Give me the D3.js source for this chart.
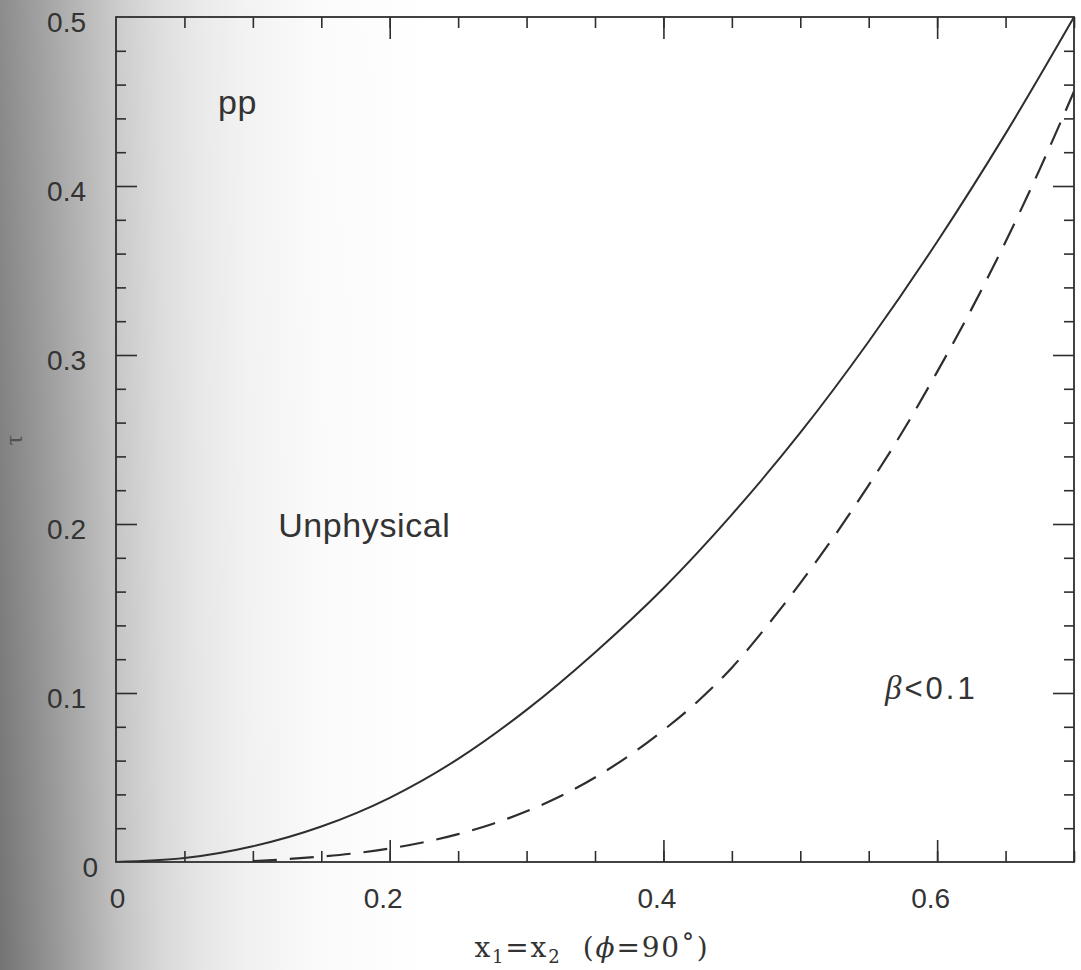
<!DOCTYPE html>
<html>
<head>
<meta charset="utf-8">
<script src="https://cdn.jsdelivr.net/npm/d3@7"></script>
<style>
  html, body { margin: 0; padding: 0; background: #fff; }
  svg { display: block; }
</style>
</head>
<body>
<svg id="chart" width="1081" height="970"></svg>
<script>
// Kinematic boundary tau versus x1 = x2 (phi = 90 deg), pp collisions
const boundaryX   = [0, 0.05, 0.10, 0.15, 0.20, 0.25, 0.30, 0.35, 0.40, 0.45, 0.50, 0.55, 0.60, 0.65, 0.70];
const boundaryTau = [0, 0.0023, 0.0093, 0.021, 0.038, 0.061, 0.090, 0.124, 0.162, 0.2056, 0.254, 0.308, 0.367, 0.431, 0.500];

// beta < 0.1 contour (dashed)
const betaX   = [0.100, 0.125, 0.150, 0.175, 0.200, 0.225, 0.250, 0.275, 0.300, 0.325, 0.350, 0.375, 0.400,
                 0.425, 0.450, 0.475, 0.500, 0.525, 0.550, 0.575, 0.600, 0.625, 0.650, 0.675, 0.700];
const betaTau = [0.0005, 0.0017, 0.0032, 0.0052, 0.0080, 0.0117, 0.0165, 0.0225, 0.030, 0.039, 0.050, 0.063, 0.078,
                 0.095, 0.115, 0.139, 0.165, 0.193, 0.223, 0.255, 0.290, 0.327, 0.367, 0.410, 0.456];

// Axis ticks
const xMinorTicks = [0.05, 0.10, 0.15, 0.20, 0.25, 0.30, 0.35, 0.40, 0.45, 0.50, 0.55, 0.60, 0.65, 0.70];
const xMajorTicks = [0.2, 0.4, 0.6];
const xTickLabels = [0, 0.2, 0.4, 0.6];
const yMinorTicks = [0.02, 0.04, 0.06, 0.08, 0.12, 0.14, 0.16, 0.18, 0.22, 0.24, 0.26, 0.28,
                     0.32, 0.34, 0.36, 0.38, 0.42, 0.44, 0.46, 0.48];
const yMajorTicks = [0.1, 0.2, 0.3, 0.4];
const yTickLabels = [0, 0.1, 0.2, 0.3, 0.4, 0.5];

// Text annotations, positioned in data coordinates
const annotations = [
  { text: "pp",         x: 0.0745, y: 0.4426 },
  { text: "Unphysical", x: 0.1185, y: 0.1923 }
];
const betaNote = { x: 0.5619, y: 0.0964 };

const svg = d3.select("#chart");
const W = 1081, H = 970;
const plot = { left: 116, right: 1074, top: 17, bottom: 862 };

const x = d3.scaleLinear().domain([0, 0.7]).range([plot.left, plot.right]);
const y = d3.scaleLinear().domain([0, 0.5]).range([plot.bottom, plot.top]);

// Page shading, darker toward the left edge
const defs = svg.append("defs");
const gh = defs.append("linearGradient").attr("id", "shadeH")
  .attr("gradientUnits", "userSpaceOnUse").attr("x1", 0).attr("x2", 430).attr("y1", 0).attr("y2", 0);
[[0, "#737373"], [0.09, "#8c8c8c"], [0.19, "#a9a9a9"], [0.28, "#c3c3c3"], [0.37, "#d7d7d7"],
 [0.47, "#e6e6e6"], [0.58, "#f1f1f1"], [0.74, "#fafafa"], [1, "#ffffff"]]
  .forEach(([o, c]) => gh.append("stop").attr("offset", o).attr("stop-color", c));
const gv = defs.append("linearGradient").attr("id", "shadeV")
  .attr("x1", 0).attr("x2", 0).attr("y1", 0).attr("y2", 1);
gv.append("stop").attr("offset", 0).attr("stop-color", "#fff").attr("stop-opacity", 0.18);
gv.append("stop").attr("offset", 1).attr("stop-color", "#fff").attr("stop-opacity", 0);
defs.append("clipPath").attr("id", "plotClip").append("rect")
  .attr("x", plot.left).attr("y", plot.top)
  .attr("width", plot.right - plot.left).attr("height", plot.bottom - plot.top);

svg.append("rect").attr("width", W).attr("height", H).attr("fill", "url(#shadeH)");
svg.append("rect").attr("width", 430).attr("height", H).attr("fill", "url(#shadeV)");

const ink = "#2e2e2e";
const labelFont = "'Liberation Sans', Arial, Helvetica, sans-serif";

function styleAxis(g) {
  g.select(".domain").remove();
  g.selectAll(".tick line").attr("stroke", ink).attr("stroke-width", 1.6);
  g.selectAll(".tick text").attr("fill", "#333")
    .style("font-family", labelFont).style("font-size", "28px");
}

// Bottom axis
svg.append("g").attr("transform", `translate(0,${plot.bottom})`)
  .call(d3.axisBottom(x).tickValues(xMinorTicks).tickSizeInner(-11).tickSizeOuter(0).tickFormat(""))
  .call(styleAxis);
svg.append("g").attr("transform", `translate(0,${plot.bottom})`)
  .call(d3.axisBottom(x).tickValues(xMajorTicks).tickSizeInner(-22).tickSizeOuter(0).tickFormat(""))
  .call(styleAxis);
svg.append("g").attr("transform", `translate(0,${plot.bottom})`)
  .call(d3.axisBottom(x).tickValues(xTickLabels).tickSize(0).tickPadding(26)
    .tickFormat(d => d === 0 ? "0" : d3.format(".1f")(d)))
  .call(styleAxis)
  .call(g => g.selectAll(".tick text").attr("dx", d => d === 0 ? 1 : -7));

// Top axis
svg.append("g").attr("transform", `translate(0,${plot.top})`)
  .call(d3.axisTop(x).tickValues(xMinorTicks).tickSizeInner(-11).tickSizeOuter(0).tickFormat(""))
  .call(styleAxis);
svg.append("g").attr("transform", `translate(0,${plot.top})`)
  .call(d3.axisTop(x).tickValues(xMajorTicks).tickSizeInner(-22).tickSizeOuter(0).tickFormat(""))
  .call(styleAxis);

// Left axis
svg.append("g").attr("transform", `translate(${plot.left},0)`)
  .call(d3.axisLeft(y).tickValues(yMinorTicks).tickSizeInner(-10).tickSizeOuter(0).tickFormat(""))
  .call(styleAxis);
svg.append("g").attr("transform", `translate(${plot.left},0)`)
  .call(d3.axisLeft(y).tickValues(yMajorTicks).tickSizeInner(-21).tickSizeOuter(0).tickFormat(""))
  .call(styleAxis);
svg.append("g").attr("transform", `translate(${plot.left},0)`)
  .call(d3.axisLeft(y).tickValues(yTickLabels).tickSize(0).tickPadding(30)
    .tickFormat(d => d === 0 ? "0" : d3.format(".1f")(d)))
  .call(styleAxis)
  .call(g => g.selectAll(".tick text").attr("dy", "0.5em")
    .attr("dx", d => d === 0 ? 12 : 0));

// Right axis
svg.append("g").attr("transform", `translate(${plot.right},0)`)
  .call(d3.axisRight(y).tickValues(yMinorTicks).tickSizeInner(-10).tickSizeOuter(0).tickFormat(""))
  .call(styleAxis);
svg.append("g").attr("transform", `translate(${plot.right},0)`)
  .call(d3.axisRight(y).tickValues(yMajorTicks).tickSizeInner(-21).tickSizeOuter(0).tickFormat(""))
  .call(styleAxis);

// Frame
svg.append("rect")
  .attr("x", plot.left).attr("y", plot.top)
  .attr("width", plot.right - plot.left).attr("height", plot.bottom - plot.top)
  .attr("fill", "none").attr("stroke", ink).attr("stroke-width", 1.8);

// Curves
const line = d3.line().x(d => x(d[0])).y(d => y(d[1])).curve(d3.curveMonotoneX);
const curves = svg.append("g").attr("clip-path", "url(#plotClip)");
curves.append("path")
  .datum(d3.zip(boundaryX, boundaryTau))
  .attr("d", line).attr("fill", "none")
  .attr("stroke", ink).attr("stroke-width", 2);
curves.append("path")
  .datum(d3.zip(betaX, betaTau))
  .attr("d", line).attr("fill", "none")
  .attr("stroke", ink).attr("stroke-width", 2.2)
  .attr("stroke-dasharray", "24,13");

// Region annotations
svg.append("g").selectAll("text").data(annotations).join("text")
  .attr("x", d => x(d.x)).attr("y", d => y(d.y))
  .attr("fill", "#333")
  .attr("letter-spacing", "0.6")
  .style("font-family", labelFont).style("font-size", "34px")
  .text(d => d.text);

const beta = svg.append("text")
  .attr("x", x(betaNote.x)).attr("y", y(betaNote.y))
  .attr("fill", "#333")
  .style("font-family", labelFont).style("font-size", "31px")
  .attr("letter-spacing", "3");
beta.append("tspan").style("font-family", "'Liberation Serif', 'DejaVu Serif', serif")
  .style("font-style", "italic").style("font-size", "33px").text("β");
beta.append("tspan").text("<0.1");

// Axis titles
const xt = svg.append("text")
  .attr("x", 592).attr("y", 957)
  .attr("text-anchor", "middle")
  .attr("fill", "#333")
  .style("font-family", "'DejaVu Serif', 'Liberation Serif', serif")
  .style("font-size", "28px")
  .attr("letter-spacing", "1.8");
xt.append("tspan").text("x");
xt.append("tspan").attr("dy", 6).style("font-size", "18px").text("1");
xt.append("tspan").attr("dy", -6).text("=x");
xt.append("tspan").attr("dy", 6).style("font-size", "18px").text("2");
xt.append("tspan").attr("dy", -6).text("\u00a0\u00a0(");
xt.append("tspan").style("font-style", "italic").text("ϕ");
xt.append("tspan").text("=90˚)");

svg.append("text")
  .attr("transform", "translate(22,440) rotate(-90)")
  .attr("text-anchor", "middle")
  .attr("fill", "#444").attr("opacity", 0.8)
  .style("font-family", "'Liberation Serif', serif")
  .style("font-size", "26px")
  .text("τ");
</script>
</body>
</html>
